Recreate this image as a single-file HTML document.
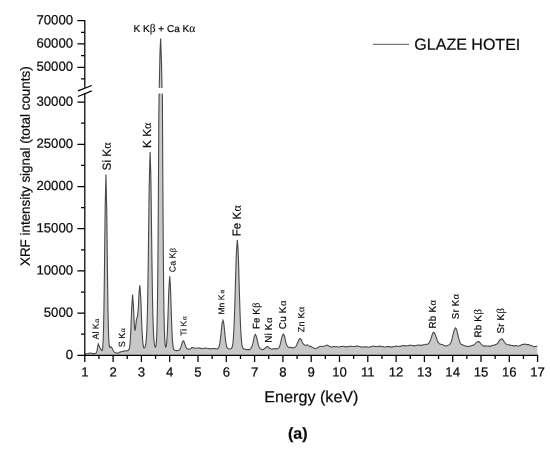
<!DOCTYPE html>
<html lang="en">
<head>
<meta charset="utf-8">
<title>XRF spectrum - GLAZE HOTEI</title>
<style>
html,body{margin:0;padding:0;background:#fff;}
body{width:550px;height:451px;overflow:hidden;}
svg{display:block;}
text{font-family:"Liberation Sans",Arial,Helvetica,sans-serif;fill:#0a0a0a;stroke:#0a0a0a;stroke-width:.22px;text-rendering:geometricPrecision;}
.g{font-family:"Liberation Serif","DejaVu Serif",serif;stroke-width:.1px;}
.tick text{font-size:13.2px;}
text.s{stroke-width:.15px;}
</style>
</head>
<body>
<svg width="550" height="451" viewBox="0 0 550 451">
<rect width="550" height="451" fill="#fff"/>
<polygon points="84.8,355.3 84.80,353.90 85.20,353.89 85.60,353.88 86.00,353.85 86.40,353.82 86.80,353.78 87.20,353.73 87.60,353.69 88.00,353.60 88.40,353.47 88.80,353.33 89.20,353.19 89.60,353.08 90.00,353.01 90.40,353.01 90.80,353.07 91.20,353.17 91.60,353.30 92.00,353.43 92.40,353.53 92.80,353.59 93.20,353.60 93.60,353.58 94.00,353.55 94.40,353.51 94.80,353.47 95.20,353.42 95.60,353.34 96.00,353.13 96.40,352.60 96.80,351.46 97.20,349.49 97.60,346.98 98.30,343.98 99.20,346.00 99.60,347.34 100.40,348.60 101.20,349.75 101.60,350.41 102.00,350.64 102.40,349.77 102.80,346.69 103.20,339.67 103.60,326.46 104.00,305.10 104.40,275.32 104.80,240.12 105.20,206.12 105.95,174.48 106.80,213.88 107.20,248.82 107.60,282.93 108.00,310.39 108.40,329.12 108.80,339.99 109.20,345.21 109.60,347.09 110.00,347.35 111.00,346.77 112.00,347.93 112.40,348.81 112.80,349.72 113.20,350.55 113.60,351.23 114.00,351.76 114.40,352.17 114.80,352.46 115.20,352.65 115.60,352.78 116.00,352.88 116.40,352.96 116.80,353.03 117.20,353.08 117.60,353.10 118.00,353.04 118.40,352.89 118.80,352.69 119.20,352.47 119.60,352.28 120.00,352.13 120.40,352.01 120.80,351.88 121.20,351.77 121.60,351.66 122.00,351.56 122.40,351.46 122.80,351.38 123.20,351.30 123.60,351.23 124.00,351.16 124.40,351.10 124.80,351.03 125.20,350.97 125.60,350.92 126.00,350.86 126.40,350.80 126.80,350.74 127.20,350.68 127.60,350.61 128.00,350.51 128.40,350.32 128.80,349.93 129.20,349.07 129.60,347.28 130.00,343.98 130.40,338.52 130.80,330.58 131.20,320.55 131.60,309.83 132.60,294.45 133.60,308.83 134.00,318.29 134.40,325.93 134.80,329.98 135.20,330.04 135.60,327.09 136.50,319.11 137.20,317.27 137.60,315.95 138.00,312.43 138.40,306.20 138.80,298.28 139.20,290.78 139.85,285.24 140.80,298.60 141.20,309.22 141.60,320.10 142.00,329.69 142.40,337.14 142.80,342.30 143.20,345.48 143.60,347.19 144.00,347.89 144.40,347.94 144.80,347.51 145.20,346.60 145.60,345.06 146.00,342.48 146.40,338.17 146.80,331.03 147.20,319.66 147.60,302.67 148.00,279.26 148.40,250.07 148.80,217.78 149.20,187.04 150.10,152.03 150.80,174.13 151.20,201.98 151.60,234.22 152.00,265.47 152.40,292.00 152.80,312.21 153.20,326.26 153.60,335.36 154.00,340.94 154.40,344.26 154.80,346.18 155.20,347.14 155.60,347.17 156.00,345.84 156.40,342.12 156.80,334.09 157.20,318.84 157.60,292.62 158.00,251.63 158.40,193.43 158.80,118.90 159.20,89.54 159.60,71.58 160.00,52.16 160.65,38.41 161.60,66.16 162.00,88.01 162.40,98.10 162.80,175.99 163.20,238.51 163.60,283.69 164.00,313.30 164.40,330.99 164.80,340.61 165.20,345.28 165.60,347.03 166.00,346.92 166.40,345.19 166.80,341.56 167.20,335.55 167.60,326.79 168.00,315.49 168.40,302.71 168.80,290.37 169.70,276.20 170.40,285.28 170.80,296.59 171.20,309.53 171.60,321.85 172.00,332.03 172.40,339.50 172.80,344.42 173.20,347.35 173.60,348.95 174.00,349.76 174.40,350.15 174.80,350.35 175.20,350.45 175.60,350.52 176.00,350.56 176.40,350.59 176.80,350.60 177.20,350.59 177.60,350.57 178.00,350.52 178.40,350.44 178.80,350.31 179.20,350.08 179.60,349.73 180.00,349.20 180.40,348.43 180.80,347.40 181.20,346.14 181.60,344.73 182.00,343.31 182.40,342.07 183.20,340.80 184.00,341.63 184.40,342.66 184.80,343.88 185.20,345.12 185.60,346.23 186.00,347.14 186.40,347.82 186.80,348.29 187.20,348.61 187.60,348.82 188.00,348.95 188.40,349.04 188.80,349.10 189.20,349.15 189.60,349.18 190.00,349.03 190.40,348.92 190.80,348.58 191.20,348.14 191.60,347.74 192.00,347.49 192.40,347.47 192.80,347.65 193.20,347.81 193.60,347.90 194.00,347.94 194.40,347.95 194.80,347.98 195.20,348.05 195.60,348.15 196.00,348.23 196.40,348.26 196.80,348.20 197.20,348.09 197.60,347.96 198.00,347.88 198.40,347.88 198.80,347.97 199.20,348.10 199.60,348.24 200.00,348.33 200.40,348.36 200.80,348.37 201.20,348.38 201.60,348.44 202.00,348.54 202.40,348.64 202.80,348.71 203.20,348.69 203.60,348.59 204.00,348.43 204.40,348.26 204.80,348.15 205.20,348.11 205.60,348.14 206.00,348.21 206.40,348.25 206.80,348.26 207.20,348.25 207.60,348.25 208.00,348.30 208.40,348.42 208.80,348.59 209.20,348.77 209.60,348.89 210.00,348.93 210.40,348.88 210.80,348.79 211.20,348.69 211.60,348.64 212.00,348.64 212.40,348.67 212.80,348.68 213.20,348.65 213.60,348.58 214.00,348.49 214.40,348.44 214.80,348.46 215.20,348.56 215.60,348.71 216.00,348.85 216.40,348.93 216.80,348.91 217.20,348.80 217.60,348.60 218.00,348.33 218.40,347.92 218.80,347.27 219.20,346.22 219.60,344.59 220.00,342.25 220.40,339.18 220.80,335.48 221.20,331.44 221.60,327.44 222.00,323.96 222.95,320.18 223.60,322.28 224.00,325.23 224.40,328.99 224.80,333.10 225.20,337.10 225.60,340.62 226.00,343.45 226.40,345.51 226.80,346.87 227.20,347.69 227.60,348.15 228.00,348.42 228.40,348.62 228.80,348.80 229.20,348.95 229.60,349.04 230.00,349.05 230.40,349.00 230.80,348.88 231.20,348.68 231.60,348.31 232.00,347.59 232.40,346.25 232.80,343.91 233.20,340.19 233.60,334.67 234.00,327.06 234.40,317.23 234.80,305.31 235.20,291.81 235.60,277.60 236.00,263.93 236.40,252.22 237.30,239.92 238.00,247.48 238.40,257.72 238.80,270.75 239.20,285.03 239.60,299.10 240.00,311.84 240.40,322.57 240.80,331.05 241.20,337.39 241.60,341.88 242.00,344.90 242.40,346.82 242.80,347.94 243.20,348.51 243.60,348.76 244.00,348.86 244.40,348.93 244.80,349.04 245.20,349.21 245.60,349.40 246.00,349.55 246.40,349.63 246.80,349.65 247.20,349.62 247.60,349.59 248.00,349.60 248.40,349.63 248.80,349.66 249.20,349.62 249.60,349.48 250.00,349.23 250.40,348.87 250.80,348.42 251.20,347.88 251.60,347.20 252.00,346.31 252.40,345.14 252.80,343.63 253.20,341.83 253.60,339.86 254.00,337.91 254.40,336.23 255.40,334.41 256.40,336.43 256.80,337.99 257.20,339.76 257.60,341.59 258.00,343.35 258.40,344.94 258.80,346.26 259.20,347.27 259.60,347.98 260.00,348.43 260.40,348.71 260.80,348.91 261.20,349.10 261.60,349.30 262.00,349.48 262.40,349.59 262.80,349.58 263.20,349.44 263.60,349.20 264.00,348.90 264.40,348.59 264.80,348.29 265.20,348.00 265.60,347.70 266.00,347.38 266.40,347.05 267.30,346.58 268.00,346.77 268.40,347.10 268.80,347.49 269.20,347.88 269.60,348.20 270.00,348.43 270.40,348.59 270.80,348.72 271.20,348.85 271.60,348.97 272.00,349.06 272.40,349.09 272.80,349.04 273.20,348.92 273.60,348.77 274.00,348.65 274.40,348.60 274.80,348.64 275.20,348.73 275.60,348.82 276.00,348.86 276.40,348.85 276.80,348.78 277.20,348.69 277.60,348.60 278.00,348.47 278.40,348.26 278.80,347.88 279.20,347.25 279.60,346.30 280.00,345.05 280.40,343.54 280.80,341.85 281.20,340.10 281.60,338.39 282.00,336.82 282.40,335.50 283.30,334.05 284.00,334.83 284.40,336.02 284.80,337.60 285.20,339.37 285.60,341.14 286.00,342.72 286.40,344.03 286.80,345.05 287.20,345.81 287.60,346.39 288.00,346.83 288.40,347.15 288.80,347.36 289.20,347.45 289.60,347.44 290.00,347.39 290.40,347.36 290.80,347.38 291.20,347.48 291.60,347.63 292.00,347.78 292.40,347.87 292.80,347.88 293.20,347.80 293.60,347.68 294.00,347.55 294.40,347.43 294.80,347.30 295.20,347.10 295.60,346.78 296.00,346.28 296.40,345.59 296.80,344.74 297.20,343.80 297.60,342.82 298.00,341.84 298.40,340.91 298.80,340.05 299.20,339.32 300.00,338.50 300.80,338.96 301.20,339.67 301.60,340.56 302.00,341.51 302.40,342.39 302.80,343.13 303.20,343.70 303.60,344.12 304.00,344.46 304.40,344.75 304.80,345.00 305.20,345.19 305.60,345.25 306.00,345.21 306.40,345.10 306.80,345.01 307.20,345.01 307.60,345.13 308.00,345.34 308.40,345.61 308.80,345.85 309.20,346.03 309.60,346.16 310.00,346.25 310.40,346.35 310.80,346.49 311.20,346.68 311.60,346.90 312.00,347.15 312.40,347.37 312.80,347.55 313.20,347.71 313.60,347.88 314.00,348.09 314.40,348.33 314.80,348.57 315.20,348.74 315.60,348.79 316.00,348.68 316.40,348.46 316.80,348.17 317.20,347.88 317.60,347.63 318.00,347.42 318.40,347.23 318.80,347.04 319.20,346.84 319.60,346.63 320.00,346.44 320.40,346.32 320.80,346.29 321.20,346.34 321.60,346.43 322.00,346.50 322.40,346.50 322.80,346.43 323.20,346.32 323.60,346.20 324.00,346.12 324.40,346.07 324.80,346.03 325.20,345.94 325.60,345.79 326.00,345.59 326.40,345.37 326.80,345.21 327.20,345.17 327.60,345.27 328.00,345.47 328.40,345.73 328.80,345.98 329.20,346.19 329.60,346.34 330.00,346.47 330.40,346.60 330.80,346.75 331.20,346.88 331.60,346.99 332.00,347.04 332.40,346.99 332.80,346.87 333.20,346.72 333.60,346.60 334.00,346.54 334.40,346.56 334.80,346.63 335.20,346.69 335.60,346.71 336.00,346.70 336.40,346.66 336.80,346.65 337.20,346.70 337.60,346.80 338.00,346.93 338.40,347.02 338.80,347.04 339.20,346.97 339.60,346.83 340.00,346.68 340.40,346.56 340.80,346.51 341.20,346.50 341.60,346.51 342.00,346.50 342.40,346.44 342.80,346.37 343.20,346.31 343.60,346.31 344.00,346.40 344.40,346.55 344.80,346.72 345.20,346.84 345.60,346.89 346.00,346.86 346.40,346.78 346.80,346.70 347.20,346.65 347.60,346.65 348.00,346.66 348.40,346.64 348.80,346.56 349.20,346.43 349.60,346.28 350.00,346.17 350.40,346.14 350.80,346.20 351.20,346.32 351.60,346.45 352.00,346.53 352.40,346.55 352.80,346.52 353.20,346.48 353.60,346.46 354.00,346.48 354.40,346.53 354.80,346.57 355.20,346.54 355.60,346.45 356.00,346.29 356.40,346.14 356.80,346.04 357.20,346.02 357.60,346.09 358.00,346.21 358.40,346.33 358.80,346.41 359.20,346.46 359.60,346.48 360.00,346.54 360.40,346.65 360.80,346.80 361.20,346.97 361.60,347.09 362.00,347.13 362.40,347.08 362.80,346.97 363.20,346.86 363.60,346.79 364.00,346.79 364.40,346.84 364.80,346.90 365.20,346.93 365.60,346.92 366.00,346.87 366.40,346.84 366.80,346.87 367.20,346.96 367.60,347.10 368.00,347.23 368.40,347.30 368.80,347.28 369.20,347.17 369.60,347.02 370.00,346.88 370.40,346.78 370.80,346.73 371.20,346.69 371.60,346.63 372.00,346.53 372.40,346.39 372.80,346.24 373.20,346.15 373.60,346.14 374.00,346.22 374.40,346.35 374.80,346.48 375.20,346.56 375.60,346.56 376.00,346.52 376.40,346.46 376.80,346.43 377.20,346.45 377.60,346.49 378.00,346.52 378.40,346.49 378.80,346.40 379.20,346.27 379.60,346.15 380.00,346.09 380.40,346.13 380.80,346.25 381.20,346.40 381.60,346.54 382.00,346.63 382.40,346.67 382.80,346.68 383.20,346.71 383.60,346.79 384.00,346.90 384.40,347.00 384.80,347.05 385.20,347.02 385.60,346.91 386.00,346.75 386.40,346.60 386.80,346.51 387.20,346.51 387.60,346.56 388.00,346.62 388.40,346.65 388.80,346.65 389.20,346.62 389.60,346.60 390.00,346.65 390.40,346.75 390.80,346.89 391.20,347.02 391.60,347.08 392.00,347.05 392.40,346.94 392.80,346.79 393.20,346.65 393.60,346.56 394.00,346.53 394.40,346.51 394.80,346.47 395.20,346.38 395.60,346.27 396.00,346.15 396.40,346.08 396.80,346.10 397.20,346.19 397.60,346.32 398.00,346.42 398.40,346.46 398.80,346.42 399.20,346.32 399.60,346.22 400.00,346.16 400.40,346.14 400.80,346.14 401.20,346.12 401.60,346.05 402.00,345.92 402.40,345.75 402.80,345.61 403.20,345.54 403.60,345.55 404.00,345.64 404.40,345.76 404.80,345.84 405.20,345.87 405.60,345.83 406.00,345.78 406.40,345.74 406.80,345.74 407.20,345.78 407.60,345.81 408.00,345.80 408.40,345.71 408.80,345.55 409.20,345.38 409.60,345.24 410.00,345.17 410.40,345.20 410.80,345.29 411.20,345.38 411.60,345.45 412.00,345.47 412.40,345.47 412.80,345.48 413.20,345.54 413.60,345.65 414.00,345.78 414.40,345.88 414.80,345.90 415.20,345.83 415.60,345.69 416.00,345.52 416.40,345.39 416.80,345.32 417.20,345.31 417.60,345.32 418.00,345.30 418.40,345.25 418.80,345.16 419.20,345.08 419.60,345.05 420.00,345.09 420.40,345.19 420.80,345.30 421.20,345.38 421.60,345.37 422.00,345.28 422.40,345.13 422.80,344.99 423.20,344.88 423.60,344.82 424.00,344.80 424.40,344.76 424.80,344.69 425.20,344.56 425.60,344.41 426.00,344.29 426.40,344.22 426.80,344.22 427.20,344.24 427.60,344.21 428.00,344.07 428.40,343.76 428.80,343.29 429.20,342.65 429.60,341.90 430.00,341.05 430.40,340.09 430.80,339.02 431.20,337.84 431.60,336.57 432.00,335.29 432.40,334.12 432.80,333.18 433.80,332.34 434.80,333.55 435.20,334.41 435.60,335.42 436.00,336.56 436.40,337.79 436.80,339.04 437.20,340.24 437.60,341.29 438.00,342.13 438.40,342.75 438.80,343.17 439.20,343.46 439.60,343.69 440.00,343.90 440.40,344.10 440.80,344.28 441.20,344.39 441.60,344.44 442.00,344.47 442.40,344.53 442.80,344.66 443.20,344.88 443.60,345.15 444.00,345.44 444.40,345.67 444.80,345.81 445.20,345.85 445.60,345.83 446.00,345.78 446.40,345.75 446.80,345.70 447.20,345.61 447.60,345.47 448.00,345.33 448.40,345.14 448.80,344.89 449.20,344.59 449.60,344.26 450.00,343.87 450.40,343.38 450.80,342.69 451.20,341.75 451.60,340.52 452.00,339.04 452.40,337.39 452.80,335.65 453.20,333.94 453.60,332.32 454.00,330.86 454.40,329.61 455.40,327.90 456.40,329.06 456.80,330.32 457.20,331.89 457.60,333.61 458.00,335.35 458.40,337.01 458.80,338.55 459.20,339.94 459.60,341.20 460.00,342.30 460.40,343.22 460.80,343.92 461.20,344.39 461.60,344.65 462.00,344.77 462.40,344.83 462.80,344.89 463.20,345.00 463.60,345.20 464.00,345.43 464.40,345.64 464.80,345.79 465.20,345.88 465.60,345.93 466.00,346.01 466.40,346.15 466.80,346.32 467.20,346.47 467.60,346.55 468.00,346.53 468.40,346.43 468.80,346.28 469.20,346.15 469.60,346.06 470.00,346.03 470.40,346.02 470.80,345.98 471.20,345.89 471.60,345.74 472.00,345.56 472.40,345.39 472.80,345.26 473.20,345.16 473.60,345.05 474.00,344.88 474.40,344.60 474.80,344.21 475.20,343.73 475.60,343.24 476.00,342.79 476.40,342.42 476.80,342.14 477.20,341.93 478.00,341.64 478.80,341.63 479.20,341.83 479.60,342.19 480.00,342.67 480.40,343.22 480.80,343.75 481.20,344.22 481.60,344.59 482.00,344.90 482.40,345.18 482.80,345.46 483.20,345.72 483.60,345.95 484.00,346.10 484.40,346.14 484.80,346.09 485.20,345.99 485.60,345.90 486.00,345.88 486.40,345.92 486.80,346.03 487.20,346.13 487.60,346.19 488.00,346.19 488.40,346.14 488.80,346.09 489.20,346.06 489.60,346.09 490.00,346.13 490.40,346.15 490.80,346.11 491.20,345.97 491.60,345.77 492.00,345.55 492.40,345.37 492.80,345.26 493.20,345.23 493.60,345.22 494.00,345.19 494.40,345.11 494.80,344.97 495.20,344.79 495.60,344.61 496.00,344.45 496.40,344.29 496.80,344.10 497.20,343.81 497.60,343.39 498.00,342.83 498.40,342.18 498.80,341.50 499.20,340.86 499.60,340.31 500.00,339.86 500.40,339.48 500.80,339.18 501.50,338.85 502.40,339.09 502.80,339.51 503.20,340.09 503.60,340.75 504.00,341.40 504.40,341.99 504.80,342.50 505.20,342.94 505.60,343.35 506.00,343.75 506.40,344.12 506.80,344.44 507.20,344.66 507.60,344.77 508.00,344.78 508.40,344.74 508.80,344.72 509.20,344.77 509.60,344.89 510.00,345.06 510.40,345.23 510.80,345.35 511.20,345.42 511.60,345.44 512.00,345.46 512.40,345.52 512.80,345.63 513.20,345.75 513.60,345.85 514.00,345.88 514.40,345.84 514.80,345.73 515.20,345.62 515.60,345.56 516.00,345.58 516.40,345.67 516.80,345.80 517.20,345.90 517.60,345.96 518.00,345.97 518.40,345.96 518.80,345.90 519.20,345.83 519.60,345.75 520.00,345.64 520.40,345.49 520.80,345.26 521.20,344.99 521.60,344.74 522.00,344.57 522.40,344.45 522.80,344.40 523.20,344.40 523.60,344.40 524.00,344.37 524.40,344.29 524.80,344.21 525.20,344.15 525.60,344.17 526.00,344.26 526.40,344.41 526.80,344.55 527.20,344.64 527.60,344.66 528.00,344.64 528.40,344.63 528.80,344.68 529.20,344.79 529.60,344.97 530.00,345.16 530.40,345.34 530.80,345.46 531.20,345.54 531.60,345.62 532.00,345.73 532.40,345.91 532.80,346.14 533.20,346.39 533.60,346.58 534.00,346.67 534.40,346.68 534.80,346.62 535.20,346.53 535.60,346.45 536.00,346.39 536.40,346.33 536.80,346.21 537.20,346.01 537.6,355.3" fill="#c8c8c8" stroke="none"/>
<polyline points="84.80,353.90 85.20,353.89 85.60,353.88 86.00,353.85 86.40,353.82 86.80,353.78 87.20,353.73 87.60,353.69 88.00,353.60 88.40,353.47 88.80,353.33 89.20,353.19 89.60,353.08 90.00,353.01 90.40,353.01 90.80,353.07 91.20,353.17 91.60,353.30 92.00,353.43 92.40,353.53 92.80,353.59 93.20,353.60 93.60,353.58 94.00,353.55 94.40,353.51 94.80,353.47 95.20,353.42 95.60,353.34 96.00,353.13 96.40,352.60 96.80,351.46 97.20,349.49 97.60,346.98 98.30,343.98 99.20,346.00 99.60,347.34 100.40,348.60 101.20,349.75 101.60,350.41 102.00,350.64 102.40,349.77 102.80,346.69 103.20,339.67 103.60,326.46 104.00,305.10 104.40,275.32 104.80,240.12 105.20,206.12 105.95,174.48 106.80,213.88 107.20,248.82 107.60,282.93 108.00,310.39 108.40,329.12 108.80,339.99 109.20,345.21 109.60,347.09 110.00,347.35 111.00,346.77 112.00,347.93 112.40,348.81 112.80,349.72 113.20,350.55 113.60,351.23 114.00,351.76 114.40,352.17 114.80,352.46 115.20,352.65 115.60,352.78 116.00,352.88 116.40,352.96 116.80,353.03 117.20,353.08 117.60,353.10 118.00,353.04 118.40,352.89 118.80,352.69 119.20,352.47 119.60,352.28 120.00,352.13 120.40,352.01 120.80,351.88 121.20,351.77 121.60,351.66 122.00,351.56 122.40,351.46 122.80,351.38 123.20,351.30 123.60,351.23 124.00,351.16 124.40,351.10 124.80,351.03 125.20,350.97 125.60,350.92 126.00,350.86 126.40,350.80 126.80,350.74 127.20,350.68 127.60,350.61 128.00,350.51 128.40,350.32 128.80,349.93 129.20,349.07 129.60,347.28 130.00,343.98 130.40,338.52 130.80,330.58 131.20,320.55 131.60,309.83 132.60,294.45 133.60,308.83 134.00,318.29 134.40,325.93 134.80,329.98 135.20,330.04 135.60,327.09 136.50,319.11 137.20,317.27 137.60,315.95 138.00,312.43 138.40,306.20 138.80,298.28 139.20,290.78 139.85,285.24 140.80,298.60 141.20,309.22 141.60,320.10 142.00,329.69 142.40,337.14 142.80,342.30 143.20,345.48 143.60,347.19 144.00,347.89 144.40,347.94 144.80,347.51 145.20,346.60 145.60,345.06 146.00,342.48 146.40,338.17 146.80,331.03 147.20,319.66 147.60,302.67 148.00,279.26 148.40,250.07 148.80,217.78 149.20,187.04 150.10,152.03 150.80,174.13 151.20,201.98 151.60,234.22 152.00,265.47 152.40,292.00 152.80,312.21 153.20,326.26 153.60,335.36 154.00,340.94 154.40,344.26 154.80,346.18 155.20,347.14 155.60,347.17 156.00,345.84 156.40,342.12 156.80,334.09 157.20,318.84 157.60,292.62 158.00,251.63 158.40,193.43 158.80,118.90 159.20,89.54 159.60,71.58 160.00,52.16 160.65,38.41 161.60,66.16 162.00,88.01 162.40,98.10 162.80,175.99 163.20,238.51 163.60,283.69 164.00,313.30 164.40,330.99 164.80,340.61 165.20,345.28 165.60,347.03 166.00,346.92 166.40,345.19 166.80,341.56 167.20,335.55 167.60,326.79 168.00,315.49 168.40,302.71 168.80,290.37 169.70,276.20 170.40,285.28 170.80,296.59 171.20,309.53 171.60,321.85 172.00,332.03 172.40,339.50 172.80,344.42 173.20,347.35 173.60,348.95 174.00,349.76 174.40,350.15 174.80,350.35 175.20,350.45 175.60,350.52 176.00,350.56 176.40,350.59 176.80,350.60 177.20,350.59 177.60,350.57 178.00,350.52 178.40,350.44 178.80,350.31 179.20,350.08 179.60,349.73 180.00,349.20 180.40,348.43 180.80,347.40 181.20,346.14 181.60,344.73 182.00,343.31 182.40,342.07 183.20,340.80 184.00,341.63 184.40,342.66 184.80,343.88 185.20,345.12 185.60,346.23 186.00,347.14 186.40,347.82 186.80,348.29 187.20,348.61 187.60,348.82 188.00,348.95 188.40,349.04 188.80,349.10 189.20,349.15 189.60,349.18 190.00,349.03 190.40,348.92 190.80,348.58 191.20,348.14 191.60,347.74 192.00,347.49 192.40,347.47 192.80,347.65 193.20,347.81 193.60,347.90 194.00,347.94 194.40,347.95 194.80,347.98 195.20,348.05 195.60,348.15 196.00,348.23 196.40,348.26 196.80,348.20 197.20,348.09 197.60,347.96 198.00,347.88 198.40,347.88 198.80,347.97 199.20,348.10 199.60,348.24 200.00,348.33 200.40,348.36 200.80,348.37 201.20,348.38 201.60,348.44 202.00,348.54 202.40,348.64 202.80,348.71 203.20,348.69 203.60,348.59 204.00,348.43 204.40,348.26 204.80,348.15 205.20,348.11 205.60,348.14 206.00,348.21 206.40,348.25 206.80,348.26 207.20,348.25 207.60,348.25 208.00,348.30 208.40,348.42 208.80,348.59 209.20,348.77 209.60,348.89 210.00,348.93 210.40,348.88 210.80,348.79 211.20,348.69 211.60,348.64 212.00,348.64 212.40,348.67 212.80,348.68 213.20,348.65 213.60,348.58 214.00,348.49 214.40,348.44 214.80,348.46 215.20,348.56 215.60,348.71 216.00,348.85 216.40,348.93 216.80,348.91 217.20,348.80 217.60,348.60 218.00,348.33 218.40,347.92 218.80,347.27 219.20,346.22 219.60,344.59 220.00,342.25 220.40,339.18 220.80,335.48 221.20,331.44 221.60,327.44 222.00,323.96 222.95,320.18 223.60,322.28 224.00,325.23 224.40,328.99 224.80,333.10 225.20,337.10 225.60,340.62 226.00,343.45 226.40,345.51 226.80,346.87 227.20,347.69 227.60,348.15 228.00,348.42 228.40,348.62 228.80,348.80 229.20,348.95 229.60,349.04 230.00,349.05 230.40,349.00 230.80,348.88 231.20,348.68 231.60,348.31 232.00,347.59 232.40,346.25 232.80,343.91 233.20,340.19 233.60,334.67 234.00,327.06 234.40,317.23 234.80,305.31 235.20,291.81 235.60,277.60 236.00,263.93 236.40,252.22 237.30,239.92 238.00,247.48 238.40,257.72 238.80,270.75 239.20,285.03 239.60,299.10 240.00,311.84 240.40,322.57 240.80,331.05 241.20,337.39 241.60,341.88 242.00,344.90 242.40,346.82 242.80,347.94 243.20,348.51 243.60,348.76 244.00,348.86 244.40,348.93 244.80,349.04 245.20,349.21 245.60,349.40 246.00,349.55 246.40,349.63 246.80,349.65 247.20,349.62 247.60,349.59 248.00,349.60 248.40,349.63 248.80,349.66 249.20,349.62 249.60,349.48 250.00,349.23 250.40,348.87 250.80,348.42 251.20,347.88 251.60,347.20 252.00,346.31 252.40,345.14 252.80,343.63 253.20,341.83 253.60,339.86 254.00,337.91 254.40,336.23 255.40,334.41 256.40,336.43 256.80,337.99 257.20,339.76 257.60,341.59 258.00,343.35 258.40,344.94 258.80,346.26 259.20,347.27 259.60,347.98 260.00,348.43 260.40,348.71 260.80,348.91 261.20,349.10 261.60,349.30 262.00,349.48 262.40,349.59 262.80,349.58 263.20,349.44 263.60,349.20 264.00,348.90 264.40,348.59 264.80,348.29 265.20,348.00 265.60,347.70 266.00,347.38 266.40,347.05 267.30,346.58 268.00,346.77 268.40,347.10 268.80,347.49 269.20,347.88 269.60,348.20 270.00,348.43 270.40,348.59 270.80,348.72 271.20,348.85 271.60,348.97 272.00,349.06 272.40,349.09 272.80,349.04 273.20,348.92 273.60,348.77 274.00,348.65 274.40,348.60 274.80,348.64 275.20,348.73 275.60,348.82 276.00,348.86 276.40,348.85 276.80,348.78 277.20,348.69 277.60,348.60 278.00,348.47 278.40,348.26 278.80,347.88 279.20,347.25 279.60,346.30 280.00,345.05 280.40,343.54 280.80,341.85 281.20,340.10 281.60,338.39 282.00,336.82 282.40,335.50 283.30,334.05 284.00,334.83 284.40,336.02 284.80,337.60 285.20,339.37 285.60,341.14 286.00,342.72 286.40,344.03 286.80,345.05 287.20,345.81 287.60,346.39 288.00,346.83 288.40,347.15 288.80,347.36 289.20,347.45 289.60,347.44 290.00,347.39 290.40,347.36 290.80,347.38 291.20,347.48 291.60,347.63 292.00,347.78 292.40,347.87 292.80,347.88 293.20,347.80 293.60,347.68 294.00,347.55 294.40,347.43 294.80,347.30 295.20,347.10 295.60,346.78 296.00,346.28 296.40,345.59 296.80,344.74 297.20,343.80 297.60,342.82 298.00,341.84 298.40,340.91 298.80,340.05 299.20,339.32 300.00,338.50 300.80,338.96 301.20,339.67 301.60,340.56 302.00,341.51 302.40,342.39 302.80,343.13 303.20,343.70 303.60,344.12 304.00,344.46 304.40,344.75 304.80,345.00 305.20,345.19 305.60,345.25 306.00,345.21 306.40,345.10 306.80,345.01 307.20,345.01 307.60,345.13 308.00,345.34 308.40,345.61 308.80,345.85 309.20,346.03 309.60,346.16 310.00,346.25 310.40,346.35 310.80,346.49 311.20,346.68 311.60,346.90 312.00,347.15 312.40,347.37 312.80,347.55 313.20,347.71 313.60,347.88 314.00,348.09 314.40,348.33 314.80,348.57 315.20,348.74 315.60,348.79 316.00,348.68 316.40,348.46 316.80,348.17 317.20,347.88 317.60,347.63 318.00,347.42 318.40,347.23 318.80,347.04 319.20,346.84 319.60,346.63 320.00,346.44 320.40,346.32 320.80,346.29 321.20,346.34 321.60,346.43 322.00,346.50 322.40,346.50 322.80,346.43 323.20,346.32 323.60,346.20 324.00,346.12 324.40,346.07 324.80,346.03 325.20,345.94 325.60,345.79 326.00,345.59 326.40,345.37 326.80,345.21 327.20,345.17 327.60,345.27 328.00,345.47 328.40,345.73 328.80,345.98 329.20,346.19 329.60,346.34 330.00,346.47 330.40,346.60 330.80,346.75 331.20,346.88 331.60,346.99 332.00,347.04 332.40,346.99 332.80,346.87 333.20,346.72 333.60,346.60 334.00,346.54 334.40,346.56 334.80,346.63 335.20,346.69 335.60,346.71 336.00,346.70 336.40,346.66 336.80,346.65 337.20,346.70 337.60,346.80 338.00,346.93 338.40,347.02 338.80,347.04 339.20,346.97 339.60,346.83 340.00,346.68 340.40,346.56 340.80,346.51 341.20,346.50 341.60,346.51 342.00,346.50 342.40,346.44 342.80,346.37 343.20,346.31 343.60,346.31 344.00,346.40 344.40,346.55 344.80,346.72 345.20,346.84 345.60,346.89 346.00,346.86 346.40,346.78 346.80,346.70 347.20,346.65 347.60,346.65 348.00,346.66 348.40,346.64 348.80,346.56 349.20,346.43 349.60,346.28 350.00,346.17 350.40,346.14 350.80,346.20 351.20,346.32 351.60,346.45 352.00,346.53 352.40,346.55 352.80,346.52 353.20,346.48 353.60,346.46 354.00,346.48 354.40,346.53 354.80,346.57 355.20,346.54 355.60,346.45 356.00,346.29 356.40,346.14 356.80,346.04 357.20,346.02 357.60,346.09 358.00,346.21 358.40,346.33 358.80,346.41 359.20,346.46 359.60,346.48 360.00,346.54 360.40,346.65 360.80,346.80 361.20,346.97 361.60,347.09 362.00,347.13 362.40,347.08 362.80,346.97 363.20,346.86 363.60,346.79 364.00,346.79 364.40,346.84 364.80,346.90 365.20,346.93 365.60,346.92 366.00,346.87 366.40,346.84 366.80,346.87 367.20,346.96 367.60,347.10 368.00,347.23 368.40,347.30 368.80,347.28 369.20,347.17 369.60,347.02 370.00,346.88 370.40,346.78 370.80,346.73 371.20,346.69 371.60,346.63 372.00,346.53 372.40,346.39 372.80,346.24 373.20,346.15 373.60,346.14 374.00,346.22 374.40,346.35 374.80,346.48 375.20,346.56 375.60,346.56 376.00,346.52 376.40,346.46 376.80,346.43 377.20,346.45 377.60,346.49 378.00,346.52 378.40,346.49 378.80,346.40 379.20,346.27 379.60,346.15 380.00,346.09 380.40,346.13 380.80,346.25 381.20,346.40 381.60,346.54 382.00,346.63 382.40,346.67 382.80,346.68 383.20,346.71 383.60,346.79 384.00,346.90 384.40,347.00 384.80,347.05 385.20,347.02 385.60,346.91 386.00,346.75 386.40,346.60 386.80,346.51 387.20,346.51 387.60,346.56 388.00,346.62 388.40,346.65 388.80,346.65 389.20,346.62 389.60,346.60 390.00,346.65 390.40,346.75 390.80,346.89 391.20,347.02 391.60,347.08 392.00,347.05 392.40,346.94 392.80,346.79 393.20,346.65 393.60,346.56 394.00,346.53 394.40,346.51 394.80,346.47 395.20,346.38 395.60,346.27 396.00,346.15 396.40,346.08 396.80,346.10 397.20,346.19 397.60,346.32 398.00,346.42 398.40,346.46 398.80,346.42 399.20,346.32 399.60,346.22 400.00,346.16 400.40,346.14 400.80,346.14 401.20,346.12 401.60,346.05 402.00,345.92 402.40,345.75 402.80,345.61 403.20,345.54 403.60,345.55 404.00,345.64 404.40,345.76 404.80,345.84 405.20,345.87 405.60,345.83 406.00,345.78 406.40,345.74 406.80,345.74 407.20,345.78 407.60,345.81 408.00,345.80 408.40,345.71 408.80,345.55 409.20,345.38 409.60,345.24 410.00,345.17 410.40,345.20 410.80,345.29 411.20,345.38 411.60,345.45 412.00,345.47 412.40,345.47 412.80,345.48 413.20,345.54 413.60,345.65 414.00,345.78 414.40,345.88 414.80,345.90 415.20,345.83 415.60,345.69 416.00,345.52 416.40,345.39 416.80,345.32 417.20,345.31 417.60,345.32 418.00,345.30 418.40,345.25 418.80,345.16 419.20,345.08 419.60,345.05 420.00,345.09 420.40,345.19 420.80,345.30 421.20,345.38 421.60,345.37 422.00,345.28 422.40,345.13 422.80,344.99 423.20,344.88 423.60,344.82 424.00,344.80 424.40,344.76 424.80,344.69 425.20,344.56 425.60,344.41 426.00,344.29 426.40,344.22 426.80,344.22 427.20,344.24 427.60,344.21 428.00,344.07 428.40,343.76 428.80,343.29 429.20,342.65 429.60,341.90 430.00,341.05 430.40,340.09 430.80,339.02 431.20,337.84 431.60,336.57 432.00,335.29 432.40,334.12 432.80,333.18 433.80,332.34 434.80,333.55 435.20,334.41 435.60,335.42 436.00,336.56 436.40,337.79 436.80,339.04 437.20,340.24 437.60,341.29 438.00,342.13 438.40,342.75 438.80,343.17 439.20,343.46 439.60,343.69 440.00,343.90 440.40,344.10 440.80,344.28 441.20,344.39 441.60,344.44 442.00,344.47 442.40,344.53 442.80,344.66 443.20,344.88 443.60,345.15 444.00,345.44 444.40,345.67 444.80,345.81 445.20,345.85 445.60,345.83 446.00,345.78 446.40,345.75 446.80,345.70 447.20,345.61 447.60,345.47 448.00,345.33 448.40,345.14 448.80,344.89 449.20,344.59 449.60,344.26 450.00,343.87 450.40,343.38 450.80,342.69 451.20,341.75 451.60,340.52 452.00,339.04 452.40,337.39 452.80,335.65 453.20,333.94 453.60,332.32 454.00,330.86 454.40,329.61 455.40,327.90 456.40,329.06 456.80,330.32 457.20,331.89 457.60,333.61 458.00,335.35 458.40,337.01 458.80,338.55 459.20,339.94 459.60,341.20 460.00,342.30 460.40,343.22 460.80,343.92 461.20,344.39 461.60,344.65 462.00,344.77 462.40,344.83 462.80,344.89 463.20,345.00 463.60,345.20 464.00,345.43 464.40,345.64 464.80,345.79 465.20,345.88 465.60,345.93 466.00,346.01 466.40,346.15 466.80,346.32 467.20,346.47 467.60,346.55 468.00,346.53 468.40,346.43 468.80,346.28 469.20,346.15 469.60,346.06 470.00,346.03 470.40,346.02 470.80,345.98 471.20,345.89 471.60,345.74 472.00,345.56 472.40,345.39 472.80,345.26 473.20,345.16 473.60,345.05 474.00,344.88 474.40,344.60 474.80,344.21 475.20,343.73 475.60,343.24 476.00,342.79 476.40,342.42 476.80,342.14 477.20,341.93 478.00,341.64 478.80,341.63 479.20,341.83 479.60,342.19 480.00,342.67 480.40,343.22 480.80,343.75 481.20,344.22 481.60,344.59 482.00,344.90 482.40,345.18 482.80,345.46 483.20,345.72 483.60,345.95 484.00,346.10 484.40,346.14 484.80,346.09 485.20,345.99 485.60,345.90 486.00,345.88 486.40,345.92 486.80,346.03 487.20,346.13 487.60,346.19 488.00,346.19 488.40,346.14 488.80,346.09 489.20,346.06 489.60,346.09 490.00,346.13 490.40,346.15 490.80,346.11 491.20,345.97 491.60,345.77 492.00,345.55 492.40,345.37 492.80,345.26 493.20,345.23 493.60,345.22 494.00,345.19 494.40,345.11 494.80,344.97 495.20,344.79 495.60,344.61 496.00,344.45 496.40,344.29 496.80,344.10 497.20,343.81 497.60,343.39 498.00,342.83 498.40,342.18 498.80,341.50 499.20,340.86 499.60,340.31 500.00,339.86 500.40,339.48 500.80,339.18 501.50,338.85 502.40,339.09 502.80,339.51 503.20,340.09 503.60,340.75 504.00,341.40 504.40,341.99 504.80,342.50 505.20,342.94 505.60,343.35 506.00,343.75 506.40,344.12 506.80,344.44 507.20,344.66 507.60,344.77 508.00,344.78 508.40,344.74 508.80,344.72 509.20,344.77 509.60,344.89 510.00,345.06 510.40,345.23 510.80,345.35 511.20,345.42 511.60,345.44 512.00,345.46 512.40,345.52 512.80,345.63 513.20,345.75 513.60,345.85 514.00,345.88 514.40,345.84 514.80,345.73 515.20,345.62 515.60,345.56 516.00,345.58 516.40,345.67 516.80,345.80 517.20,345.90 517.60,345.96 518.00,345.97 518.40,345.96 518.80,345.90 519.20,345.83 519.60,345.75 520.00,345.64 520.40,345.49 520.80,345.26 521.20,344.99 521.60,344.74 522.00,344.57 522.40,344.45 522.80,344.40 523.20,344.40 523.60,344.40 524.00,344.37 524.40,344.29 524.80,344.21 525.20,344.15 525.60,344.17 526.00,344.26 526.40,344.41 526.80,344.55 527.20,344.64 527.60,344.66 528.00,344.64 528.40,344.63 528.80,344.68 529.20,344.79 529.60,344.97 530.00,345.16 530.40,345.34 530.80,345.46 531.20,345.54 531.60,345.62 532.00,345.73 532.40,345.91 532.80,346.14 533.20,346.39 533.60,346.58 534.00,346.67 534.40,346.68 534.80,346.62 535.20,346.53 535.60,346.45 536.00,346.39 536.40,346.33 536.80,346.21 537.20,346.01" fill="none" stroke="#484848" stroke-width="1.1" stroke-linejoin="miter" stroke-miterlimit="6"/>
<rect x="155" y="87.9" width="12" height="5.6" fill="#fff"/>
<path d="M84.8,20.0V87.7M84.8,93.7V355.85M84.25,355.3H538.15" stroke="#000" stroke-width="1.25" fill="none"/>
<path d="M78,90.9L91.8,85.5M78,96.5L91.8,90.9" stroke="#000" stroke-width="1.25" fill="none"/>
<path d="M84.80,355.3v6.6M98.95,355.3v3.7M113.10,355.3v6.6M127.25,355.3v3.7M141.40,355.3v6.6M155.55,355.3v3.7M169.70,355.3v6.6M183.85,355.3v3.7M198.00,355.3v6.6M212.15,355.3v3.7M226.30,355.3v6.6M240.45,355.3v3.7M254.60,355.3v6.6M268.75,355.3v3.7M282.90,355.3v6.6M297.05,355.3v3.7M311.20,355.3v6.6M325.35,355.3v3.7M339.50,355.3v6.6M353.65,355.3v3.7M367.80,355.3v6.6M381.95,355.3v3.7M396.10,355.3v6.6M410.25,355.3v3.7M424.40,355.3v6.6M438.55,355.3v3.7M452.70,355.3v6.6M466.85,355.3v3.7M481.00,355.3v6.6M495.15,355.3v3.7M509.30,355.3v6.6M523.45,355.3v3.7M537.60,355.3v6.6" stroke="#000" stroke-width="1.25" fill="none"/>
<path d="M84.8,355.30h-7.4M84.8,334.20h-3.8M84.8,313.10h-7.4M84.8,292.00h-3.8M84.8,270.90h-7.4M84.8,249.80h-3.8M84.8,228.70h-7.4M84.8,207.60h-3.8M84.8,186.50h-7.4M84.8,165.40h-3.8M84.8,144.30h-7.4M84.8,123.20h-3.8M84.8,102.10h-7.4M84.8,78.90h-3.8M84.8,67.25h-7.4M84.8,55.60h-3.8M84.8,43.95h-7.4M84.8,32.30h-3.8M84.8,20.65h-7.4" stroke="#000" stroke-width="1.25" fill="none"/>
<g class="tick"><text transform="translate(84.8,376.6) rotate(0.1)" text-anchor="middle">1</text><text transform="translate(113.1,376.6) rotate(0.1)" text-anchor="middle">2</text><text transform="translate(141.4,376.6) rotate(0.1)" text-anchor="middle">3</text><text transform="translate(169.7,376.6) rotate(0.1)" text-anchor="middle">4</text><text transform="translate(198.0,376.6) rotate(0.1)" text-anchor="middle">5</text><text transform="translate(226.3,376.6) rotate(0.1)" text-anchor="middle">6</text><text transform="translate(254.6,376.6) rotate(0.1)" text-anchor="middle">7</text><text transform="translate(282.9,376.6) rotate(0.1)" text-anchor="middle">8</text><text transform="translate(311.2,376.6) rotate(0.1)" text-anchor="middle">9</text><text transform="translate(339.5,376.6) rotate(0.1)" text-anchor="middle">10</text><text transform="translate(367.8,376.6) rotate(0.1)" text-anchor="middle">11</text><text transform="translate(396.1,376.6) rotate(0.1)" text-anchor="middle">12</text><text transform="translate(424.4,376.6) rotate(0.1)" text-anchor="middle">13</text><text transform="translate(452.7,376.6) rotate(0.1)" text-anchor="middle">14</text><text transform="translate(481.0,376.6) rotate(0.1)" text-anchor="middle">15</text><text transform="translate(509.3,376.6) rotate(0.1)" text-anchor="middle">16</text><text transform="translate(537.6,376.6) rotate(0.1)" text-anchor="middle">17</text><text transform="translate(73.1,358.9) rotate(0.1)" text-anchor="end">0</text><text transform="translate(73.1,316.7) rotate(0.1)" text-anchor="end">5000</text><text transform="translate(73.1,274.5) rotate(0.1)" text-anchor="end">10000</text><text transform="translate(73.1,232.3) rotate(0.1)" text-anchor="end">15000</text><text transform="translate(73.1,190.1) rotate(0.1)" text-anchor="end">20000</text><text transform="translate(73.1,147.9) rotate(0.1)" text-anchor="end">25000</text><text transform="translate(73.1,105.7) rotate(0.1)" text-anchor="end">30000</text><text transform="translate(73.1,70.8) rotate(0.1)" text-anchor="end">50000</text><text transform="translate(73.1,47.6) rotate(0.1)" text-anchor="end">60000</text><text transform="translate(73.1,24.2) rotate(0.1)" text-anchor="end">70000</text></g>
<text transform="translate(311.4,402.3) rotate(0.06)" text-anchor="middle" font-size="16.15">Energy (keV)</text>
<text transform="translate(29.8,166.2) rotate(-89.96)" text-anchor="middle" font-size="13.42">XRF intensity signal (total counts)</text>
<text transform="translate(133.6,32) rotate(0.1)" font-size="10">K K<tspan class="g" font-size="11.5">β</tspan> + Ca K<tspan class="g" font-size="11.5">α</tspan></text>
<text transform="translate(98.85,339.4) rotate(-89.9)" font-size="8.8" class="s">Al K<tspan class="g" font-size="7.6" dx="0.6">α</tspan></text><text transform="translate(110.8,170.4) rotate(-89.9)" font-size="11.7">Si K<tspan class="g" font-size="12.2" dx="0.3">α</tspan></text><text transform="translate(124.95,347.2) rotate(-89.9)" font-size="9.0" class="s">S K<tspan class="g" font-size="7.6" dx="0.5">α</tspan></text><text transform="translate(150.9,147.9) rotate(-89.9)" font-size="11.7">K K<tspan class="g" font-size="12.2">α</tspan></text><text transform="translate(175.55,272.2) rotate(-89.9)" font-size="8.8" class="s">Ca K<tspan class="g" font-size="8.2" dx="0.5">β</tspan></text><text transform="translate(186.5,335.7) rotate(-89.9)" font-size="8.5" class="s">Ti K<tspan class="g" font-size="7.2" dx="1.0">α</tspan></text><text transform="translate(224.3,314.5) rotate(-89.9)" font-size="8.5" class="s">Mn K<tspan class="g" font-size="7.4" dx="1.1">α</tspan></text><text transform="translate(240.6,236.2) rotate(-89.9)" font-size="11.5">Fe K<tspan class="g" font-size="12.2" dx="0.3">α</tspan></text><text transform="translate(259.45,329.1) rotate(-89.9)" font-size="9.6" letter-spacing="0.2">Fe K<tspan class="g" font-size="10.2" dx="0.4">β</tspan></text><text transform="translate(271.85,342.8) rotate(-89.9)" font-size="9.8" letter-spacing="0.2">Ni K<tspan class="g" font-size="10.5" dx="0.5">α</tspan></text><text transform="translate(286.05,329.2) rotate(-89.9)" font-size="9.9" letter-spacing="0.2">Cu K<tspan class="g" font-size="10.5" dx="0.5">α</tspan></text><text transform="translate(304.25,332.15) rotate(-89.9)" font-size="9.0" letter-spacing="0.2" class="s">Zn K<tspan class="g" font-size="10.0" dx="0.3">α</tspan></text><text transform="translate(435.75,328.4) rotate(-89.9)" font-size="9.8" letter-spacing="0.2">Rb K<tspan class="g" font-size="10.5" dx="0.4">α</tspan></text><text transform="translate(458.75,319.2) rotate(-89.9)" font-size="9.6" letter-spacing="0.2">Sr K<tspan class="g" font-size="10.5" dx="0.3">α</tspan></text><text transform="translate(481.3,337.6) rotate(-89.9)" font-size="9.8" letter-spacing="0.2">Rb K<tspan class="g" font-size="10.5" dx="0.4">β</tspan></text><text transform="translate(504.05,333.5) rotate(-89.9)" font-size="9.8" letter-spacing="0.2">Sr K<tspan class="g" font-size="10.5" dx="0.2">β</tspan></text>
<path d="M373,44.3H409" stroke="#444" stroke-width="0.9"/>
<text transform="translate(414.3,49.8) rotate(0.06)" font-size="16.05">GLAZE HOTEI</text>
<text transform="translate(297.8,438.7) rotate(0.1)" text-anchor="middle" font-size="16" font-weight="bold">(a)</text>
</svg>
</body>
</html>
